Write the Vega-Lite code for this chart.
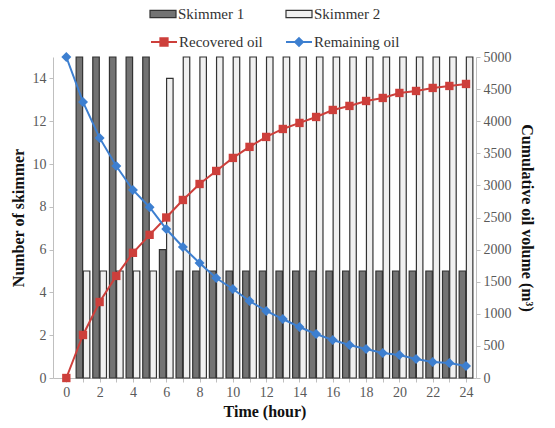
{
  "$schema": "https://vega.github.io/schema/vega-lite/v6.json",
  "width": 423,
  "height": 321,
  "autosize": "none",
  "padding": {"left": 53, "top": 57, "right": 79, "bottom": 50},
  "config": {
    "font": "Liberation Serif",
    "view": {"stroke": null},
    "axis": {
      "grid": false,
      "domainColor": "#bfbfbf",
      "tickColor": "#bfbfbf",
      "tickSize": 4,
      "labelColor": "#595959",
      "labelFontSize": 14,
      "labelFont": "Liberation Serif",
      "titleFont": "Liberation Serif",
      "titleFontSize": 16,
      "titleFontWeight": "bold",
      "titleColor": "#111111"
    },
    "legend": {"labelFont": "Liberation Serif", "labelFontSize": 15, "labelColor": "#333333"}
  },
  "datasets": {
    "bars": [
      {"hour": 1, "skimmer": "Skimmer 1", "count": 15}, {"hour": 1, "skimmer": "Skimmer 2", "count": 5},
      {"hour": 2, "skimmer": "Skimmer 1", "count": 15}, {"hour": 2, "skimmer": "Skimmer 2", "count": 5},
      {"hour": 3, "skimmer": "Skimmer 1", "count": 15}, {"hour": 3, "skimmer": "Skimmer 2", "count": 5},
      {"hour": 4, "skimmer": "Skimmer 1", "count": 15}, {"hour": 4, "skimmer": "Skimmer 2", "count": 5},
      {"hour": 5, "skimmer": "Skimmer 1", "count": 15}, {"hour": 5, "skimmer": "Skimmer 2", "count": 5},
      {"hour": 6, "skimmer": "Skimmer 1", "count": 6}, {"hour": 6, "skimmer": "Skimmer 2", "count": 14},
      {"hour": 7, "skimmer": "Skimmer 1", "count": 5}, {"hour": 7, "skimmer": "Skimmer 2", "count": 15},
      {"hour": 8, "skimmer": "Skimmer 1", "count": 5}, {"hour": 8, "skimmer": "Skimmer 2", "count": 15},
      {"hour": 9, "skimmer": "Skimmer 1", "count": 5}, {"hour": 9, "skimmer": "Skimmer 2", "count": 15},
      {"hour": 10, "skimmer": "Skimmer 1", "count": 5}, {"hour": 10, "skimmer": "Skimmer 2", "count": 15},
      {"hour": 11, "skimmer": "Skimmer 1", "count": 5}, {"hour": 11, "skimmer": "Skimmer 2", "count": 15},
      {"hour": 12, "skimmer": "Skimmer 1", "count": 5}, {"hour": 12, "skimmer": "Skimmer 2", "count": 15},
      {"hour": 13, "skimmer": "Skimmer 1", "count": 5}, {"hour": 13, "skimmer": "Skimmer 2", "count": 15},
      {"hour": 14, "skimmer": "Skimmer 1", "count": 5}, {"hour": 14, "skimmer": "Skimmer 2", "count": 15},
      {"hour": 15, "skimmer": "Skimmer 1", "count": 5}, {"hour": 15, "skimmer": "Skimmer 2", "count": 15},
      {"hour": 16, "skimmer": "Skimmer 1", "count": 5}, {"hour": 16, "skimmer": "Skimmer 2", "count": 15},
      {"hour": 17, "skimmer": "Skimmer 1", "count": 5}, {"hour": 17, "skimmer": "Skimmer 2", "count": 15},
      {"hour": 18, "skimmer": "Skimmer 1", "count": 5}, {"hour": 18, "skimmer": "Skimmer 2", "count": 15},
      {"hour": 19, "skimmer": "Skimmer 1", "count": 5}, {"hour": 19, "skimmer": "Skimmer 2", "count": 15},
      {"hour": 20, "skimmer": "Skimmer 1", "count": 5}, {"hour": 20, "skimmer": "Skimmer 2", "count": 15},
      {"hour": 21, "skimmer": "Skimmer 1", "count": 5}, {"hour": 21, "skimmer": "Skimmer 2", "count": 15},
      {"hour": 22, "skimmer": "Skimmer 1", "count": 5}, {"hour": 22, "skimmer": "Skimmer 2", "count": 15},
      {"hour": 23, "skimmer": "Skimmer 1", "count": 5}, {"hour": 23, "skimmer": "Skimmer 2", "count": 15},
      {"hour": 24, "skimmer": "Skimmer 1", "count": 5}, {"hour": 24, "skimmer": "Skimmer 2", "count": 15}
    ],
    "oil": [
      {"hour": 0, "series": "Recovered oil", "volume": 0}, {"hour": 0, "series": "Remaining oil", "volume": 5000},
      {"hour": 1, "series": "Recovered oil", "volume": 670}, {"hour": 1, "series": "Remaining oil", "volume": 4300},
      {"hour": 2, "series": "Recovered oil", "volume": 1184}, {"hour": 2, "series": "Remaining oil", "volume": 3740},
      {"hour": 3, "series": "Recovered oil", "volume": 1590}, {"hour": 3, "series": "Remaining oil", "volume": 3303},
      {"hour": 4, "series": "Recovered oil", "volume": 1950}, {"hour": 4, "series": "Remaining oil", "volume": 2929},
      {"hour": 5, "series": "Recovered oil", "volume": 2230}, {"hour": 5, "series": "Remaining oil", "volume": 2660},
      {"hour": 6, "series": "Recovered oil", "volume": 2500}, {"hour": 6, "series": "Remaining oil", "volume": 2321},
      {"hour": 7, "series": "Recovered oil", "volume": 2773}, {"hour": 7, "series": "Remaining oil", "volume": 2041},
      {"hour": 8, "series": "Recovered oil", "volume": 3022}, {"hour": 8, "series": "Remaining oil", "volume": 1792},
      {"hour": 9, "series": "Recovered oil", "volume": 3225}, {"hour": 9, "series": "Remaining oil", "volume": 1558},
      {"hour": 10, "series": "Recovered oil", "volume": 3428}, {"hour": 10, "series": "Remaining oil", "volume": 1386},
      {"hour": 11, "series": "Recovered oil", "volume": 3600}, {"hour": 11, "series": "Remaining oil", "volume": 1200},
      {"hour": 12, "series": "Recovered oil", "volume": 3755}, {"hour": 12, "series": "Remaining oil", "volume": 1044},
      {"hour": 13, "series": "Recovered oil", "volume": 3879}, {"hour": 13, "series": "Remaining oil", "volume": 919},
      {"hour": 14, "series": "Recovered oil", "volume": 3973}, {"hour": 14, "series": "Remaining oil", "volume": 794},
      {"hour": 15, "series": "Recovered oil", "volume": 4066}, {"hour": 15, "series": "Remaining oil", "volume": 686},
      {"hour": 16, "series": "Recovered oil", "volume": 4175}, {"hour": 16, "series": "Remaining oil", "volume": 592},
      {"hour": 17, "series": "Recovered oil", "volume": 4238}, {"hour": 17, "series": "Remaining oil", "volume": 514},
      {"hour": 18, "series": "Recovered oil", "volume": 4315}, {"hour": 18, "series": "Remaining oil", "volume": 452},
      {"hour": 19, "series": "Recovered oil", "volume": 4362}, {"hour": 19, "series": "Remaining oil", "volume": 390},
      {"hour": 20, "series": "Recovered oil", "volume": 4440}, {"hour": 20, "series": "Remaining oil", "volume": 358},
      {"hour": 21, "series": "Recovered oil", "volume": 4471}, {"hour": 21, "series": "Remaining oil", "volume": 296},
      {"hour": 22, "series": "Recovered oil", "volume": 4518}, {"hour": 22, "series": "Remaining oil", "volume": 249},
      {"hour": 23, "series": "Recovered oil", "volume": 4549}, {"hour": 23, "series": "Remaining oil", "volume": 234},
      {"hour": 24, "series": "Recovered oil", "volume": 4580}, {"hour": 24, "series": "Remaining oil", "volume": 187}
    ]
  },
  "encoding": {
    "x": {
      "field": "hour",
      "type": "quantitative",
      "scale": {"domain": [-0.5, 24.3], "nice": false, "zero": false},
      "axis": {
        "title": "Time (hour)",
        "values": [0,1,2,3,4,5,6,7,8,9,10,11,12,13,14,15,16,17,18,19,20,21,22,23,24],
        "labelExpr": "datum.value % 2 == 0 ? datum.label : ''",
        "labelPadding": 3,
        "titlePadding": 4
      }
    }
  },
  "layer": [
    {
      "data": {"name": "bars"},
      "encoding": {
        "y": {
          "field": "count",
          "type": "quantitative",
          "scale": {"domain": [0, 15], "nice": false},
          "axis": {
            "title": "Number of skimmer",
            "orient": "left",
            "values": [0, 2, 4, 6, 8, 10, 12, 14],
            "labelPadding": 3,
            "titlePadding": 6
          }
        },
        "fill": {
          "field": "skimmer",
          "type": "nominal",
          "scale": {"domain": ["Skimmer 1", "Skimmer 2"], "range": ["#737373", "#f0f0f0"]},
          "legend": {
            "title": null,
            "orient": "none",
            "direction": "horizontal",
            "legendX": 96,
            "legendY": -57,
            "symbolType": "M-1,-0.28H1V0.28H-1Z",
            "symbolSize": 676,
            "symbolStrokeColor": "#333333",
            "symbolStrokeWidth": 1.2,
            "labelOffset": 1,
            "columnPadding": 38
          }
        }
      },
      "layer": [
        {
          "transform": [{"filter": "datum.skimmer == 'Skimmer 1'"}],
          "mark": {"type": "bar", "width": 6.5, "xOffset": -3.6, "stroke": "#333333", "strokeWidth": 1.2}
        },
        {
          "transform": [{"filter": "datum.skimmer == 'Skimmer 2'"}],
          "mark": {"type": "bar", "width": 6.5, "xOffset": 3.6, "stroke": "#333333", "strokeWidth": 1.2}
        }
      ]
    },
    {
      "data": {"name": "oil"},
      "encoding": {
        "y": {
          "field": "volume",
          "type": "quantitative",
          "scale": {"domain": [0, 5000], "nice": false},
          "axis": {
            "title": "Cumulative oil volume (m³)",
            "orient": "right",
            "values": [0, 500, 1000, 1500, 2000, 2500, 3000, 3500, 4000, 4500, 5000],
            "format": "d",
            "labelPadding": 3,
            "titlePadding": 7
          }
        }
      },
      "layer": [
        {
          "mark": {"type": "line", "strokeWidth": 2},
          "encoding": {
            "color": {
              "field": "series",
              "type": "nominal",
              "scale": {"domain": ["Recovered oil", "Remaining oil"], "range": ["#cd3f3b", "#3d7fd0"]},
              "legend": {
                "title": null,
                "orient": "none",
                "direction": "horizontal",
                "legendX": 97,
                "legendY": -29,
                "symbolSize": 676,
                "symbolStrokeWidth": 2,
                "labelOffset": 1,
                "columnPadding": 19,
                "encode": {
                  "symbols": {
                    "update": {
                      "shape": {"signal": "datum.value == 'Recovered oil' ? 'M-1,0L1,0M-0.28,-0.28L0.28,-0.28L0.28,0.28L-0.28,0.28Z' : 'M-1,0L1,0M0,-0.3L0.3,0L0,0.3L-0.3,0Z'"},
                      "fill": {"signal": "datum.value == 'Recovered oil' ? '#cd3f3b' : '#3d7fd0'"},
                      "stroke": {"signal": "datum.value == 'Recovered oil' ? '#cd3f3b' : '#3d7fd0'"}
                    }
                  }
                }
              }
            }
          }
        },
        {
          "transform": [{"filter": "datum.series == 'Recovered oil'"}],
          "mark": {"type": "point", "filled": true, "opacity": 1, "shape": "square", "size": 70, "color": "#cd3f3b"}
        },
        {
          "transform": [{"filter": "datum.series == 'Remaining oil'"}],
          "mark": {"type": "point", "filled": true, "opacity": 1, "shape": "diamond", "size": 100, "color": "#3d7fd0"}
        }
      ]
    }
  ],
  "resolve": {"scale": {"y": "independent"}}
}
